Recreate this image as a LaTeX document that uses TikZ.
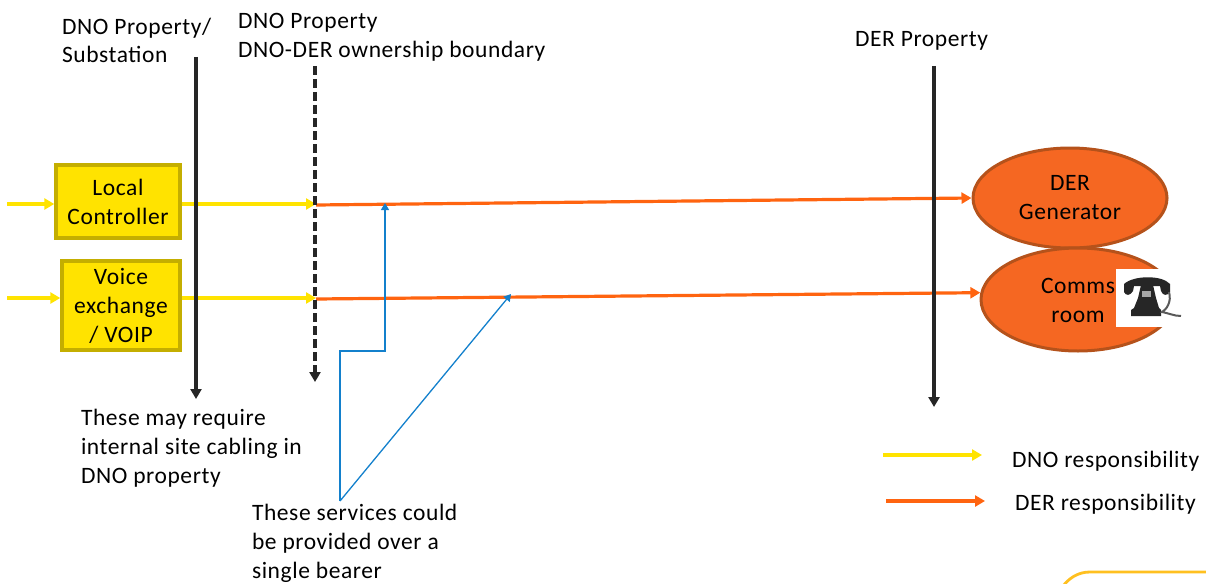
\documentclass[tikz,border=0pt]{standalone}
\usepackage{fontspec}
\setmainfont{Carlito}[LetterSpace=2.5]
\usetikzlibrary{arrows.meta,positioning,shapes.geometric}
\definecolor{dyellow}{HTML}{FFE300}
\definecolor{dborder}{HTML}{C4AE00}
\definecolor{dorange}{HTML}{F56722}
\definecolor{dline}{HTML}{FF6410}
\definecolor{oborder}{HTML}{B5521B}
\definecolor{bblue}{HTML}{1380CC}
\definecolor{dblack}{HTML}{262626}
\definecolor{gold}{HTML}{FFC020}
\tikzset{
  txt/.style={inner sep=0pt,outer sep=0pt,font=\fontsize{23.5}{29}\selectfont,align=left,text=black},
  boxy/.style={draw=dborder,fill=dyellow,line width=3.4pt,inner sep=0pt,font=\fontsize{23.5}{29}\selectfont,align=center},
  oval/.style={ellipse,draw=oborder,fill=dorange,line width=3pt,inner sep=0pt,font=\fontsize{23.5}{29}\selectfont,align=center},
  yarrow/.style={draw=dyellow,line width=3.2pt,-{Triangle[length=10pt,width=11pt]}},
  oarrow/.style={draw=dline,line width=3.2pt,-{Triangle[length=10pt,width=11pt]}},
  barrier/.style={draw=dblack,line width=3.4pt,-{Triangle[length=10pt,width=11pt]}},
  barrierd/.style={barrier,dash pattern=on 9pt off 4pt},
  bluearrow/.style={draw=bblue,line width=1.3pt,-{Triangle[length=7pt,width=8pt]}},
}
\begin{document}
\begin{tikzpicture}[x=1pt,y=-1pt]
\useasboundingbox (0,0) rectangle (1206,583);
% free ends
\coordinate (b1t) at (196,57); \coordinate (b1b) at (196,399);
\coordinate (b2t) at (315,66); \coordinate (b2b) at (315,382);
\coordinate (b3t) at (934,66); \coordinate (b3b) at (934,407);
\coordinate (in1) at (7,204); \coordinate (in2) at (7,298);
\coordinate (j1) at (316,204); \coordinate (j2) at (316,298);
\coordinate (o1s) at (316,205); \coordinate (o2s) at (316,299);
\coordinate (bl) at (340,501); \coordinate (bb1) at (340,351); \coordinate (bb2) at (385,351);
\coordinate (bt1) at (385,203); \coordinate (bt2) at (511,294);
\coordinate (ly1) at (883,455); \coordinate (ly2) at (982,455);
\coordinate (lo1) at (886,501); \coordinate (lo2) at (985,501);
% shapes
\node[boxy,minimum width=124pt,minimum height=73pt] (lc) at (118,201.5) {Local\\Controller};
\node[boxy,minimum width=118pt,minimum height=89pt] (vx) at (121,305.5) {Voice\\exchange\\/ VOIP};
\node[oval,minimum width=194pt,minimum height=100pt] (der) at (1070,198) {DER\\Generator};
\node[oval,minimum width=194pt,minimum height=103pt] (comms) at (1078,299.5) {};
\node[fill=white,inner sep=0pt,minimum width=64pt,minimum height=58pt] (ph) at (1148,298) {};
\node[font=\fontsize{23.5}{29}\selectfont,align=center,inner sep=0pt] (commst) at (1078,300) {Comms\\room};
% telephone icon
\begin{scope}[shift={(ph.center)}]
  \fill[black!85] (-24,-14) .. controls (-14,-23) and (14,-23) .. (22,-14) -- (22,-6) .. controls (19,-2) and (15,-2) .. (13,-7) -- (12,-12) -- (-14,-12) -- (-15,-7) .. controls (-18,-2) and (-22,-2) .. (-24,-6) -- cycle;
  \fill[black!85] (-7,-13) -- (5,-13) -- (8,0) -- (11,10) -- (13,12) -- (13,18) -- (-17,18) -- (-17,12) -- (-14,10) -- (-10,0) -- cycle;
  \fill[black!35] (-6,-7) rectangle (3,-1);
  \draw[black!65,line width=2pt] (21,-6) .. controls (24,4) and (18,12) .. (14,14) .. controls (20,15) and (26,18) .. (33,18);
\end{scope}
% connectors
\draw[yarrow] (in1) -- (lc.west |- in1);
\draw[yarrow] (in2) -- (vx.west |- in2);
\draw[yarrow] (lc.east |- j1) -- (j1);
\draw[yarrow] (vx.east |- j2) -- (j2);
\draw[oarrow] (o1s) -- (der.west);
\draw[oarrow] (o2s) -- (comms.176);
\draw[barrier] (b1t) -- (b1b);
\draw[barrierd] (b2t) -- (b2b);
\draw[barrier] (b3t) -- (b3b);
\draw[bluearrow] (bl) -- (bb1) -- (bb2) -- (bt1);
\draw[bluearrow] (bl) -- (bt2);
\draw[yarrow] (ly1) -- (ly2);
\draw[oarrow] (lo1) -- (lo2);
% labels
\node[txt,anchor=north west,font=\fontsize{23.5}{28}\selectfont] (t1) at (62,18) {DNO Property/\\Substation};
\node[txt,anchor=north west] (t2) at (238,13) {DNO Property\\DNO-DER ownership boundary};
\node[txt,anchor=north west] (t3) at (855,31) {DER Property};
\node[txt,anchor=north west] (t4) at (81,409) {These may require\\internal site cabling in\\DNO property};
\node[txt,anchor=north west] (t5) at (252,504) {These services could\\be provided over a\\single bearer};
\node[txt,anchor=north west] (t6) at (1012,451) {DNO responsibility};
\node[txt,anchor=north west] (t7) at (1015,494) {DER responsibility};
% partial rounded shape at the page edge
\coordinate (g0) at (1060,590); \coordinate (g1) at (1090,572); \coordinate (g2) at (1215,572);
\draw[gold,line width=2.8pt] (g0) .. controls (1068,578) and (1078,572) .. (g1) -- (g2);
\end{tikzpicture}
\end{document}
